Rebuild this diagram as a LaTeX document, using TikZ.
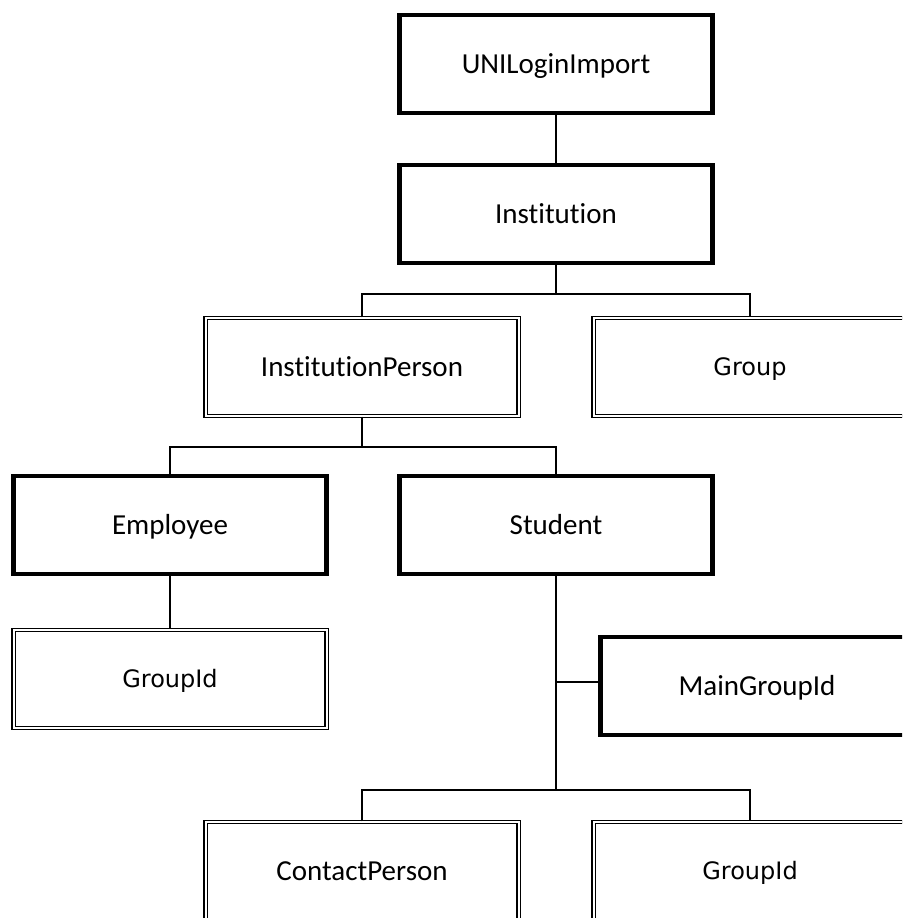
\documentclass[tikz,border=0pt]{standalone}
\usepackage{fontspec}
\setmainfont{Carlito}[Ligatures={NoCommon}]
\newfontfamily\djv{DejaVu Sans}
\begin{document}
\begin{tikzpicture}[x=1pt,y=-1pt,
  base/.style={rectangle, minimum width=313pt, minimum height=98pt, inner sep=0pt,
    text height=18.5pt, text depth=0pt, font=\fontsize{29}{34}\selectfont},
  thickbox/.style={base, draw, line width=4.3pt},
  dblbox/.style={base, draw, line width=1.1pt, double, double distance=2pt},
  djfont/.style={font=\djv\fontsize{24}{29}\selectfont, text height=17.5pt},
  conn/.style={draw, line width=1.3pt}]
\useasboundingbox (0,0) rectangle (902,918);
\clip (0,0) rectangle (902,918);
\node[thickbox] (uni) at (556,64) {UNILoginImport};
\node[thickbox] (inst) at (556,214) {Institution};
\node[dblbox] (ip) at (362,367) {InstitutionPerson};
\node[dblbox, djfont] (group) at (750,367) {Group};
\node[thickbox] (emp) at (170,525) {Employee};
\node[thickbox] (stu) at (556,525) {Student};
\node[dblbox, djfont] (gid1) at (170,679) {GroupId};
\node[thickbox] (mgid) at (757,686) {MainGroupId};
\node[dblbox] (cp) at (362,871) {ContactPerson};
\node[dblbox, djfont] (gid2) at (750,871) {GroupId};
\coordinate (b1) at (556,294);
\coordinate (b2) at (362,447);
\coordinate (b3) at (556,682);
\coordinate (b4) at (556,790);
\path[conn] (uni.south) -- (inst.north);
\path[conn] (inst.south) -- (b1);
\path[conn] (ip.north) |- (b1) -| (group.north);
\path[conn] (ip.south) -- (b2);
\path[conn] (emp.north) |- (b2) -| (stu.north);
\path[conn] (emp.south) -- (gid1.north);
\path[conn] (stu.south) -- (b4);
\path[conn] (b3) -- (b3 -| mgid.west);
\path[conn] (cp.north) |- (b4) -| (gid2.north);
\end{tikzpicture}
\end{document}
